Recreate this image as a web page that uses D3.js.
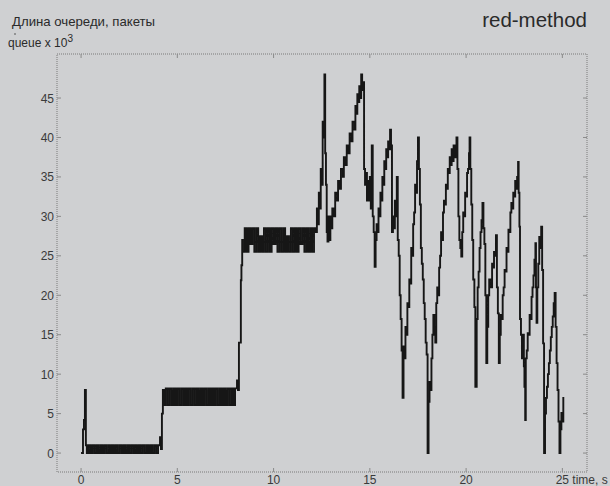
<!DOCTYPE html>
<html><head><meta charset="utf-8">
<script src="https://cdn.jsdelivr.net/npm/d3@7"></script>
<style>
html,body{margin:0;padding:0;background:#cfd0d2;}
svg{display:block;font-family:"Liberation Sans",Arial,sans-serif;}
</style></head>
<body>
<svg id="chart" width="610" height="486"></svg>
<script>
// ---- data (time in s, queue in thousands of packets) ----
const xTicks = [0, 5, 10, 15, 20, 25];
const yTicks = [0, 5, 10, 15, 20, 25, 30, 35, 40, 45];

// start-up spike
const startup = [[0.0, 0], [0.1, 3], [0.15, 4.2], [0.2, 8], [0.25, 1]];
// fast oscillation bands: values every 0.1 s from the given start time
const bandStarts = [0.3, 4.3, 8.4];
const band1 = [0,1,0,1,0,1,0,1,0,1,0,1,0,1,0,1,0,1,0,1,0,1,0,1,0,1,0,1,0,1,0,1,0,1,0,1,0,1];
const step1 = [[4.1, 2], [4.15, 0.5], [4.2, 5], [4.25, 8]];
const band2 = [6.1,8.2,6.1,8.2,6.1,8.2,6.1,8.2,6.1,8.2,6.1,8.2,6.1,8.2,6.1,8.2,6.1,8.2,6.1,8.2,6.1,8.2,6.1,8.2,6.1,8.2,6.1,8.2,6.1,8.2,6.1,8.2,6.1,8.2,6.1,8.2,6.1,8.2];
const step2 = [[8.1, 9.2], [8.15, 8], [8.2, 14], [8.3, 21.9], [8.33, 23.8], [8.37, 27]];
const band3 = [25.5,28.5,25.5,28.5,26.5,28.5,25.5,28.5,25.5,27.5,25.5,28.5,25.5,28.5,25.5,28.5,26.5,28.5,25.5,28.5,25.5,28.5,25.5,27.5,25.5,28.5,25.5,28.5,25.5,28.5,26.5,28.5,25.5,28.5,25.5,28.5,25.5,28.5];
// congested regime after 12.2 s
const congested = [
 [12.2,28],[12.25,31],[12.3,29],[12.35,33],[12.4,31],[12.45,36],[12.5,34],[12.55,42],[12.6,40],[12.64,48],[12.68,38],[12.72,34],[12.76,28],[12.8,26.8],[12.85,30],[12.9,27],[12.95,30],
 [13.0,28.5],[13.05,31],[13.15,30],[13.2,33],[13.3,32],[13.35,34.5],[13.45,33.5],[13.5,36],[13.6,35],[13.65,37.5],[13.75,36.5],[13.8,39],[13.9,38],[13.95,40.5],[14.05,39.5],[14.1,42],[14.2,41],[14.25,44],[14.3,43],[14.35,45.5],[14.4,44.5],[14.45,46.5],[14.5,45],[14.55,48],[14.6,46],[14.65,47],
 [14.7,36],[14.75,34],[14.8,35.5],[14.85,32],[14.9,34.5],[14.95,32],[15.0,35],[15.05,31],[15.1,39],[15.15,30],[15.2,28],[15.25,23.6],[15.3,27],
 [15.35,29],[15.4,28],[15.45,31],[15.5,30],[15.55,33],[15.6,32],[15.65,35],[15.7,34],[15.75,37],[15.8,36],[15.85,38.5],[15.9,37.5],[15.95,39.5],[16.0,38.5],[16.05,41],[16.1,39],
 [16.15,28],[16.2,30],[16.25,28.5],[16.3,32],[16.35,30],[16.4,35],[16.45,27],[16.5,25],[16.55,20],[16.6,17],[16.65,13],[16.7,7],[16.75,13.5],
 [16.8,12],[16.85,16],[16.9,15],[16.95,19],[17.0,18.5],[17.05,22],[17.1,21.5],[17.15,26],[17.2,25],[17.25,29],[17.3,30.5],[17.35,34],[17.4,33],[17.45,37],[17.5,40],[17.55,36],
 [17.6,31.5],[17.65,26],[17.7,24],[17.75,22],[17.8,19],[17.85,17],[17.9,14],[17.95,12.5],[18.0,0],[18.05,6.5],
 [18.1,9],[18.15,8],[18.2,12],[18.25,15],[18.3,17.5],[18.35,16],[18.4,14],[18.45,19],[18.5,21],[18.55,20],[18.6,23.5],[18.65,25],[18.7,28],[18.75,27],[18.8,30.5],[18.85,32],[18.9,31.5],[18.95,34],[19.0,33.5],[19.05,36],[19.1,35.5],[19.15,37.5],[19.2,36.5],[19.25,38.5],[19.3,37],[19.35,39],[19.4,37.5],[19.45,39],[19.5,40],[19.55,36],
 [19.6,30],[19.65,27],[19.7,26],[19.75,24.9],
 [19.8,28],[19.85,30.5],[19.9,30],[19.95,33],[20.0,32.5],[20.05,35.5],[20.1,36],[20.15,38],[20.18,40],[20.22,36],
 [20.27,31.5],[20.32,27],[20.37,22],[20.43,18.5],[20.48,8.4],
 [20.55,17],[20.6,21],[20.65,23],[20.7,26],[20.75,28],[20.8,29.5],[20.85,31.7],
 [20.9,28.5],[20.95,26.5],[21.0,20],[21.05,11.4],[21.1,16],
 [21.15,20],[21.2,22],[21.3,21],[21.35,24],[21.4,23.5],[21.45,25.5],[21.5,25],[21.55,27.6],
 [21.6,21],[21.65,17.7],[21.7,11.4],
 [21.75,15],[21.8,17.5],[21.85,17],[21.9,20],[21.95,21],[22.0,23.2],[22.05,23],[22.1,26],[22.15,25.5],[22.2,28.3],[22.25,28],[22.3,30.5],[22.35,31.7],[22.4,31],[22.45,33],[22.5,32.5],[22.55,34.5],[22.6,33.5],[22.65,35],[22.7,36.9],[22.73,33],
 [22.77,28.7],[22.8,17],[22.85,15],[22.9,12],[22.95,15],[23.0,11],[23.03,8.4],[23.07,4.2],[23.1,12],
 [23.15,13],[23.2,15.2],[23.25,15],[23.3,17.5],[23.35,17],[23.4,19.8],[23.45,21],[23.5,22.5],[23.55,24.5],[23.6,26.6],[23.63,21],[23.66,16.5],[23.7,21],[23.75,24],[23.8,27.4],[23.85,26],[23.9,28.7],
 [23.95,23.2],[24.0,13.9],[24.05,0],
 [24.1,5],[24.15,7],[24.2,8.4],[24.25,10],[24.3,11.4],[24.35,13],[24.4,14.7],[24.45,16],[24.5,17.3],[24.55,19],[24.6,20.3],
 [24.65,16],[24.7,11.4],[24.75,8],[24.8,4],[24.85,0],
 [24.9,3],[24.95,5.1],[25.0,4],[25.05,7.1]
];

// ---- build series ----
const bandPts = (vals, t0) => vals.map((v, i) => [t0 + i * 0.1, v]);
const series = [].concat(
  startup,
  bandPts(band1, bandStarts[0]), step1,
  bandPts(band2, bandStarts[1]), step2,
  bandPts(band3, bandStarts[2]),
  congested
);

// ---- layout ----
const svg = d3.select("#chart");
const L = 57, R = 587, T = 54, B = 472;
const x = d3.scaleLinear().domain([-1.25, 26.28]).range([L, R]);
const y = d3.scaleLinear().domain([-2.4, 50.58]).range([B, T]);

// frame (dotted)
svg.append("rect").attr("x", L).attr("y", T).attr("width", R - L).attr("height", B - T)
  .attr("fill", "none").attr("stroke", "#7a7a7a").attr("stroke-width", 1)
  .attr("stroke-dasharray", "1,1");

// ticks
const tk = "#8a8a8a";
yTicks.forEach(v => {
  svg.append("line").attr("x1", L).attr("x2", L + 4).attr("y1", y(v)).attr("y2", y(v)).attr("stroke", tk);
  svg.append("line").attr("x1", R - 4).attr("x2", R).attr("y1", y(v)).attr("y2", y(v)).attr("stroke", tk);
  svg.append("text").attr("x", L - 3).attr("y", y(v) + 4.5).attr("text-anchor", "end")
    .attr("font-size", 12).attr("fill", "#3a3a3a").text(v);
});
xTicks.forEach(v => {
  svg.append("line").attr("x1", x(v)).attr("x2", x(v)).attr("y1", B).attr("y2", B - 4).attr("stroke", tk);
  svg.append("line").attr("x1", x(v)).attr("x2", x(v)).attr("y1", T).attr("y2", T + 4).attr("stroke", tk);
  svg.append("text").attr("x", x(v)).attr("y", 484).attr("text-anchor", "middle")
    .attr("font-size", 12).attr("fill", "#3a3a3a").text(v);
});
svg.append("text").attr("x", x(25) + 10).attr("y", 484).attr("font-size", 12).attr("fill", "#3a3a3a").text("time, s");

// trace
const line = d3.line().x(d => x(d[0])).y(d => y(d[1])).curve(d3.curveStepAfter);
svg.append("path").datum(series).attr("d", line).attr("fill", "none")
  .attr("stroke", "#161616").attr("stroke-width", 1.9);

// labels
svg.append("text").attr("x", 12).attr("y", 26).attr("font-size", 13.2).attr("fill", "#2a2a2a").text("Длина очереди, пакеты");
svg.append("circle").attr("cx", 15).attr("cy", 34).attr("r", 0.8).attr("fill", "#444");
const ql = svg.append("text").attr("x", 8).attr("y", 47).attr("font-size", 12).attr("fill", "#2a2a2a");
ql.append("tspan").text("queue x 10");
ql.append("tspan").attr("dy", -5).attr("font-size", 10).text("3");
svg.append("text").attr("x", 587).attr("y", 27).attr("text-anchor", "end").attr("font-size", 20.5).attr("fill", "#2a2a2a").text("red-method");
</script>
</body></html>
